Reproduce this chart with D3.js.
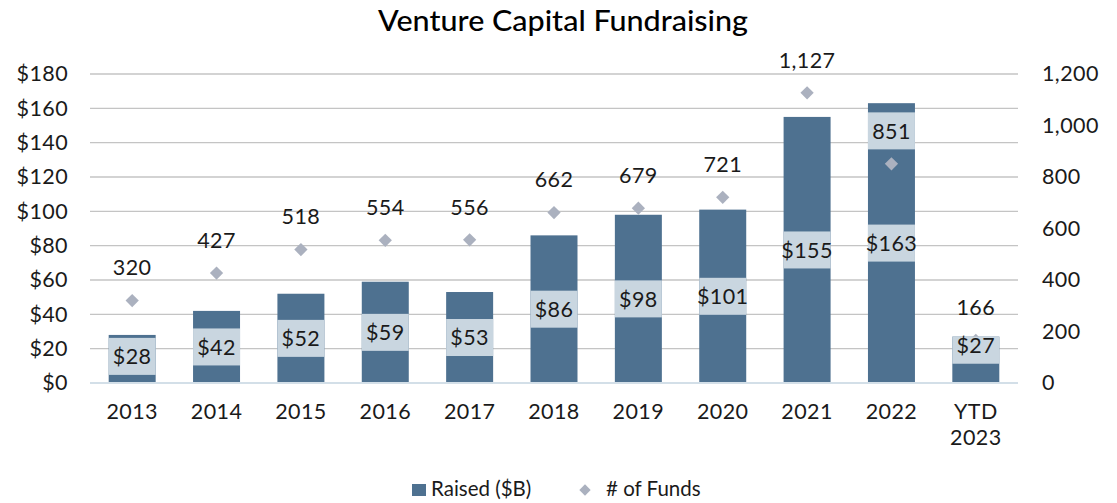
<!DOCTYPE html>
<html>
<head>
<meta charset="utf-8">
<script src="https://cdn.jsdelivr.net/npm/d3@7"></script>
<style>
  html, body { margin: 0; padding: 0; background: #fff; }
  svg { display: block; font-family: Lato, "Open Sans", sans-serif; }
  .tick text { fill: #1a1a1a; }
</style>
</head>
<body>
<div id="chart"></div>
<script>
// data
const years = ['2013', '2014', '2015', '2016', '2017', '2018', '2019', '2020', '2021', '2022', 'YTD 2023'];
const raised = [28, 42, 52, 59, 53, 86, 98, 101, 155, 163, 27];
const funds = [320, 427, 518, 554, 556, 662, 679, 721, 1127, 851, 166];
// where the $ label sits, in $B (Excel moved the last one up)
const raisedLabelAt = [15.5, 21, 26, 29.5, 26.5, 43, 49, 50.5, 77.5, 81.5, 22];
const leftTicks = [0, 20, 40, 60, 80, 100, 120, 140, 160, 180];
const rightTicks = [0, 200, 400, 600, 800, 1000, 1200];

const width = 1117, height = 503;
const margin = { top: 74, right: 99, bottom: 120, left: 90 };

const barColor = '#4e7190';
const boxColor = '#c9d6e0';
const diamondColor = '#abb1bf';
const textColor = '#1a1a1a';
const fontSize = 21.5;

const svg = d3.select('#chart').append('svg')
    .attr('width', width)
    .attr('height', height);

const x = d3.scaleBand()
    .domain(years)
    .range([margin.left, width - margin.right])
    .paddingInner(0.443)
    .paddingOuter(0.2215);

const y = d3.scaleLinear()
    .domain([0, 180])
    .range([height - margin.bottom, margin.top]);

const y2 = d3.scaleLinear()
    .domain([0, 1200])
    .range([height - margin.bottom, margin.top]);

// title
svg.append('text')
    .attr('x', 378)
    .attr('y', 31)
    .attr('font-size', 28)
    .attr('font-weight', 500)
    .attr('fill', '#000')
    .attr('textLength', 370)
    .attr('lengthAdjust', 'spacingAndGlyphs')
    .text('Venture Capital Fundraising');

// gridlines
svg.append('g')
    .selectAll('line')
    .data(leftTicks.filter(d => d > 0))
    .enter().append('line')
    .attr('x1', margin.left)
    .attr('x2', width - margin.right)
    .attr('y1', d => y(d))
    .attr('y2', d => y(d))
    .attr('stroke', '#c4c4c4')
    .attr('stroke-width', 1.3);

// left axis
const leftAxis = svg.append('g')
    .attr('transform', `translate(${margin.left},0)`)
    .call(d3.axisLeft(y).tickValues(leftTicks).tickFormat(d => '$' + d).tickSize(0).tickPadding(22));
leftAxis.select('.domain').remove();
leftAxis.selectAll('text').attr('font-size', fontSize).attr('font-family', 'Lato, sans-serif').attr('letter-spacing', 0.4);

// right axis
const rightAxis = svg.append('g')
    .attr('transform', `translate(${width - margin.right},0)`)
    .call(d3.axisRight(y2).tickValues(rightTicks).tickFormat(d3.format(',')).tickSize(0).tickPadding(24));
rightAxis.select('.domain').remove();
rightAxis.selectAll('text').attr('font-size', fontSize).attr('font-family', 'Lato, sans-serif').attr('letter-spacing', 0.4);

// bars
const bar = svg.append('g')
    .selectAll('g')
    .data(years.map((d, i) => ({ year: d, raised: raised[i], funds: funds[i], at: raisedLabelAt[i] })))
    .enter().append('g');

bar.append('rect')
    .attr('x', d => x(d.year))
    .attr('y', d => y(d.raised))
    .attr('width', x.bandwidth())
    .attr('height', d => y(0) - y(d.raised))
    .attr('fill', barColor);

// baseline
svg.append('line')
    .attr('x1', margin.left)
    .attr('x2', width - margin.right)
    .attr('y1', y(0))
    .attr('y2', y(0))
    .attr('stroke', '#d3dfe8')
    .attr('stroke-width', 2);

// diamonds
const diamond = d3.symbol().type(d3.symbolDiamond2).size(112);
bar.append('path')
    .attr('d', diamond)
    .attr('transform', d => `translate(${x(d.year) + x.bandwidth() / 2},${y2(d.funds)})`)
    .attr('fill', diamondColor);

// $ labels with light box, clipped to bar top
const boxH = 37;
bar.append('rect')
    .attr('x', d => x(d.year))
    .attr('y', d => Math.max(y(d.raised), y(d.at) - boxH / 2))
    .attr('width', x.bandwidth())
    .attr('height', d => y(d.at) + boxH / 2 - Math.max(y(d.raised), y(d.at) - boxH / 2))
    .attr('fill', boxColor);

bar.append('text')
    .attr('x', d => x(d.year) + x.bandwidth() / 2)
    .attr('y', d => y(d.at))
    .attr('dy', '0.36em')
    .attr('text-anchor', 'middle')
    .attr('font-size', fontSize)
    .attr('letter-spacing', 0.4)
    .attr('fill', textColor)
    .text(d => '$' + d.raised);

// fund count labels (boxed when they land on a bar)
const fundLabelY = d => y2(d.funds) - 33;
bar.filter(d => fundLabelY(d) - boxH / 2 > y(d.raised))
    .append('rect')
    .attr('x', d => x(d.year))
    .attr('y', d => fundLabelY(d) - boxH / 2)
    .attr('width', x.bandwidth())
    .attr('height', boxH)
    .attr('fill', boxColor);

bar.append('text')
    .attr('x', d => x(d.year) + x.bandwidth() / 2)
    .attr('y', fundLabelY)
    .attr('dy', '0.36em')
    .attr('text-anchor', 'middle')
    .attr('font-size', fontSize)
    .attr('letter-spacing', 0.4)
    .attr('fill', textColor)
    .text(d => d3.format(',')(d.funds));

// x labels
const xLabel = svg.append('g')
    .selectAll('text')
    .data(years)
    .enter().append('text')
    .attr('x', d => x(d) + x.bandwidth() / 2)
    .attr('y', y(0) + 36)
    .attr('text-anchor', 'middle')
    .attr('font-size', fontSize)
    .attr('letter-spacing', 0.4)
    .attr('fill', textColor);
xLabel.each(function(d) {
    const parts = d.split(' ');
    d3.select(this).selectAll('tspan')
        .data(parts)
        .enter().append('tspan')
        .attr('x', x(d) + x.bandwidth() / 2)
        .attr('dy', (p, i) => i ? 26 : 0)
        .text(p => p);
});

// legend
const legend = svg.append('g').attr('transform', 'translate(0,489)');
legend.append('rect')
    .attr('x', 412).attr('y', -5)
    .attr('width', 14).attr('height', 12)
    .attr('fill', barColor);
legend.append('text')
    .attr('x', 431).attr('y', 0).attr('dy', '0.36em')
    .attr('font-size', 20.5).attr('fill', textColor)
    .text('Raised ($B)');
legend.append('path')
    .attr('d', d3.symbol().type(d3.symbolDiamond2).size(82))
    .attr('transform', 'translate(585,1)')
    .attr('fill', diamondColor);
legend.append('text')
    .attr('x', 606).attr('y', 0).attr('dy', '0.36em')
    .attr('font-size', 20.5).attr('fill', textColor)
    .text('# of Funds');
</script>
</body>
</html>
